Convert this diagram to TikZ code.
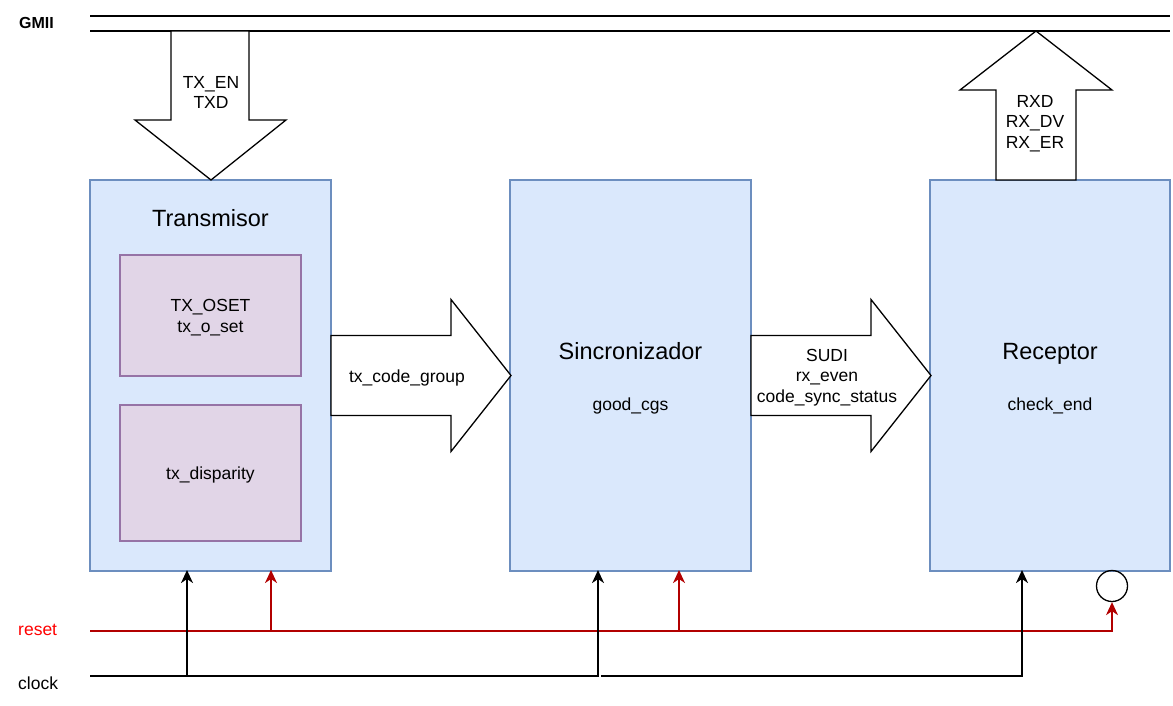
\documentclass[tikz,border=0pt]{standalone}
\usepackage{fontspec}
\setmainfont{Liberation Sans}
\usetikzlibrary{arrows.meta,shapes.geometric}
\definecolor{bfill}{HTML}{DAE8FC}
\definecolor{bdraw}{HTML}{6C8EBF}
\definecolor{pfill}{HTML}{E1D5E7}
\definecolor{pdraw}{HTML}{9673A6}
\definecolor{rline}{HTML}{B20000}
\definecolor{rtext}{HTML}{FF0000}
\begin{document}
\begin{tikzpicture}[x=1pt,y=-1pt,
  bluebox/.style={draw=bdraw,fill=bfill,line width=1.1pt,inner sep=0pt},
  purplebox/.style={draw=pdraw,fill=pfill,line width=1.1pt,inner sep=0pt},
  bigarrow/.style={draw=black,fill=white,line width=1.3pt,line join=miter},
  small/.style={font=\fontsize{17.5}{20.5}\selectfont,align=center,inner sep=0pt},
  titletext/.style={font=\fontsize{23.5}{28}\selectfont,inner sep=0pt,anchor=base},
  sidelabel/.style={font=\fontsize{17.5}{21}\selectfont,anchor=west,inner sep=0pt},
  busline/.style={line width=1.3pt},
  clk/.style={line width=1.3pt,-{Stealth[length=13pt,width=12pt,inset=4pt]}},
  rst/.style={line width=1.1pt,draw=rline,-{Stealth[length=13pt,width=12pt,inset=4pt]}},
]
\useasboundingbox (0,0) rectangle (1173,705);

% GMII bus
\node[font=\bfseries\fontsize{16}{19}\selectfont,anchor=west,inner sep=0pt] (gmii) at (19,23) {GMII};
\coordinate (busAL) at (90,16);
\coordinate (busAR) at (1170,16);
\coordinate (busBL) at (90,31);
\coordinate (busBR) at (1170,31);
\draw[busline] (busAL) -- (busAR);
\draw[busline] (busBL) -- (busBR);

% blocks
\node[bluebox,minimum width=241pt,minimum height=391pt] (tx) at (210.5,375.5) {};
\node[bluebox,minimum width=241pt,minimum height=391pt] (sinc) at (630.5,375.5) {};
\node[bluebox,minimum width=240pt,minimum height=391pt] (rec) at (1050,375.5) {};

\node[purplebox,minimum width=181pt,minimum height=121pt] (oset) at (210.5,315.5) {};
\node[purplebox,minimum width=181pt,minimum height=136pt] (disp) at (210.5,473) {};

% texts in blocks
\node[titletext] (txt) at (210.5,226.5) {Transmisor};
\node[small] (osett) at ([yshift=-2pt]oset.center) {TX\_OSET\\tx\_o\_set};
\node[small] (dispt) at ([yshift=-2pt]disp.center) {tx\_disparity};
\node[titletext] (sinct) at (630.5,359) {Sincronizador};
\node[small,anchor=base] (goodt) at (630.5,410.5) {good\_cgs};
\node[titletext] (rect) at (1050,359) {Receptor};
\node[small,anchor=base] (checkt) at (1050,410.5) {check\_end};

% block arrows
\draw[bigarrow] (171,31) -- (249,31) -- (249,120) -- (286,120) -- (211,180) -- (135,120) -- (171,120) -- cycle;
\node[small] (txin) at (211,92.5) {TX\_EN\\TXD};

\draw[bigarrow] (996,180) -- (1076,180) -- (1076,90) -- (1112,90) -- (1036,31) -- (960,90) -- (996,90) -- cycle;
\node[small] (rxout) at (1035,123.5) {RXD\\RX\_DV\\RX\_ER};

\draw[bigarrow] (331,335.5) -- (451,335.5) -- (451,299.5) -- (511,375.5) -- (451,451.5) -- (451,415.5) -- (331,415.5) -- cycle;
\node[small] (cg) at (407,378) {tx\_code\_group};

\draw[bigarrow] (751,335.5) -- (871,335.5) -- (871,299.5) -- (931,375.5) -- (871,451.5) -- (871,415.5) -- (751,415.5) -- cycle;
\node[small] (sudi) at (827,377.5) {SUDI\\rx\_even\\code\_sync\_status};

% reset / clock
\node[sidelabel,text=rtext] (resetlbl) at (18,630) {reset};
\node[sidelabel] (clocklbl) at (18,683) {clock};

\node[draw=black,line width=1.3pt,circle,minimum size=31pt,inner sep=0pt] (inv) at (1112,586) {};

\coordinate (rL) at (90,631);
\coordinate (r1) at (271,631);
\coordinate (r2) at (679,631);
\coordinate (cL) at (90,676);
\coordinate (c1) at (187,676);
\coordinate (c2) at (598,676);
\coordinate (c3) at (601,676);
\coordinate (c4) at (1022,676);

\draw[rst] (rL) -| (inv.south);
\draw[rst] (r1) -- ([yshift=1.5pt]r1 |- tx.south);
\draw[rst] (r2) -- ([yshift=1.5pt]r2 |- sinc.south);

\draw[clk] (cL) -| ([yshift=1.5pt]c2 |- sinc.south);
\draw[clk] (c1) -- ([yshift=1.5pt]c1 |- tx.south);
\draw[clk] (c3) -| ([yshift=1.5pt]c4 |- rec.south);
\end{tikzpicture}
\end{document}
